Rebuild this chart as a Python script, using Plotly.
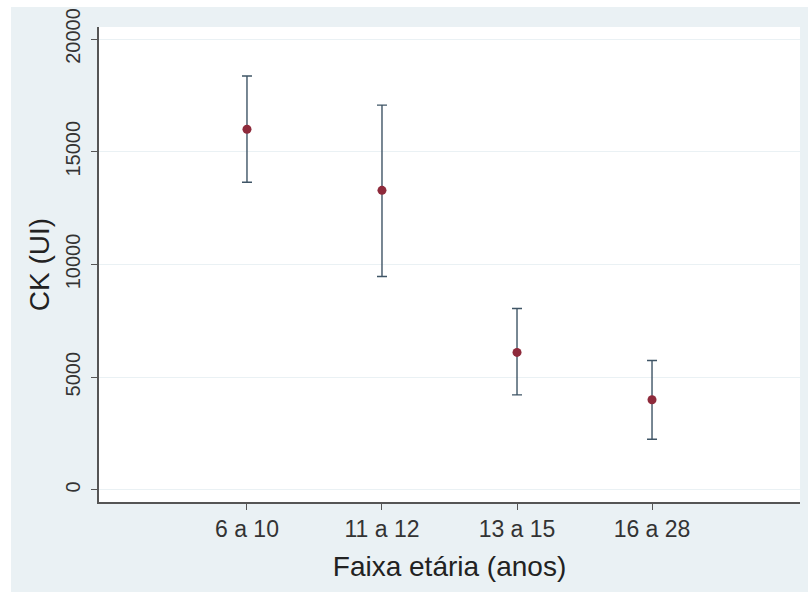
import plotly.graph_objects as go

categories = ["6 a 10", "11 a 12", "13 a 15", "16 a 28"]
means = [16000, 13290, 6100, 4000]
upper = [18360, 17070, 8050, 5740]
lower = [13650, 9470, 4220, 2250]
y_ticks = [0, 5000, 10000, 15000, 20000]
y_tick_labels = ["0", "5000", "10000", "15000", "20000"]

err_plus = [u - m for u, m in zip(upper, means)]
err_minus = [m - l for m, l in zip(means, lower)]

fig = go.Figure()
fig.add_trace(go.Scatter(
    x=categories, y=means, mode="markers",
    marker=dict(color="#8E2A3B", size=9),
    error_y=dict(type="data", symmetric=False, array=err_plus, arrayminus=err_minus,
                 color="#3F5566", thickness=1.4, width=5),
    showlegend=False,
))

W, H = 808, 592
L, R, T, B = 99, 8, 27, 90
pw, ph = W - L - R, H - T - B

fig.update_layout(
    width=W, height=H,
    margin=dict(l=L, r=R, t=T, b=B),
    paper_bgcolor="#EAF1F4",
    plot_bgcolor="white",
    font=dict(family="Liberation Sans, Arial, sans-serif", color="#333333"),
    xaxis=dict(
        type="category", range=[-1.096, 4.096],
        showgrid=False, zeroline=False,
        showline=True, linecolor="#555555", linewidth=1.5,
        ticks="outside", ticklen=6, tickcolor="#555555", tickwidth=1.2,
        tickfont=dict(size=23, color="#333333"),
        title=dict(text="Faixa etária (anos)", font=dict(size=28, color="#222222"), standoff=15),
    ),
    yaxis=dict(
        range=[-533, 20533],
        tickmode="array", tickvals=y_ticks, ticktext=y_tick_labels,
        showgrid=True, gridcolor="#EAF1F4", gridwidth=1,
        zeroline=False,
        showline=True, linecolor="#555555", linewidth=1.5,
        ticks="outside", ticklen=6, tickcolor="#555555", tickwidth=1.2,
        tickangle=-90, ticklabelstandoff=3,
        tickfont=dict(size=20, color="#333333"),
        title=dict(text="CK (UI)", font=dict(size=28, color="#222222"), standoff=4),
    ),
    shapes=[
        dict(type="rect", xref="paper", yref="paper", layer="above",
             x0=-L / pw, x1=-(L - 11) / pw, y0=-B / ph, y1=1 + T / ph,
             fillcolor="white", line=dict(width=0)),
        dict(type="rect", xref="paper", yref="paper", layer="above",
             x0=-L / pw, x1=1 + R / pw, y0=1 + (T - 7) / ph, y1=1 + T / ph,
             fillcolor="white", line=dict(width=0)),
    ],
)

fig.write_html("out.html")
